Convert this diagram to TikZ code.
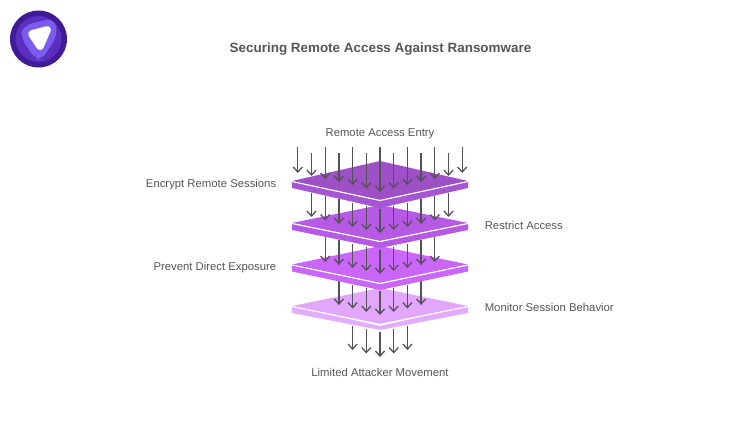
\documentclass[tikz,border=0pt]{standalone}
\usepackage{fontspec}
\setmainfont{Liberation Sans}
\usetikzlibrary{arrows.meta}
\definecolor{inkgrey}{HTML}{555555}
\definecolor{arrowgrey}{HTML}{555059}
\definecolor{topA}{HTML}{9E50C6}
\definecolor{sideA}{HTML}{A656D2}
\definecolor{topB}{HTML}{B65AE6}
\definecolor{sideB}{HTML}{B65AE6}
\definecolor{topC}{HTML}{CB66FB}
\definecolor{sideC}{HTML}{CB66FB}
\definecolor{topD}{HTML}{E2A6FD}
\definecolor{sideD}{HTML}{E5ABFF}
\definecolor{logoA}{HTML}{3F1C96}
\definecolor{logoB}{HTML}{5A2FC2}
\definecolor{logoC}{HTML}{7A5CEE}
\tikzset{
	flow/.style={arrowgrey, line width=0.9pt, -{Straight Barb[length=3.6pt,width=6.5pt]}},
	label/.style={inkgrey, inner sep=0pt, font=\fontsize{8.05}{10}\selectfont},
	heading/.style={inkgrey, inner sep=0pt, font=\fontsize{9.55}{11}\selectfont\bfseries},
	edgeline/.style={white, line width=0.8pt}
}
\begin{document}
\begin{tikzpicture}[x=0.025cm, y=-0.025cm]
	\useasboundingbox (0, 0) rectangle (740, 420);
	% logo
	\fill [logoA] (38.5, 39) circle (28.5);
	\fill [logoB] (38.5, 39) circle (23);
	\fill [logoC, rounded corners=6] (22, 26) -- (54, 18) -- (58, 34) -- (42, 60) -- (35, 59) -- (21, 38) -- cycle;
	\filldraw [white, line width=5.5pt, line join=round] (32, 34) -- (47, 30) -- (40, 46) -- cycle;
	% texts
	\node [heading] at (380.5, 49.5) (title) {Securing Remote Access Against Ransomware};
	\node [label] at (380, 133.5) (entry) {Remote Access Entry};
	\node [label, anchor=east] at (276.5, 185) (encrypt) {Encrypt Remote Sessions};
	\node [label, anchor=west] at (484.5, 225.5) (restrict) {Restrict Access};
	\node [label, anchor=east] at (276.5, 267.5) (prevent) {Prevent Direct Exposure};
	\node [label, anchor=west] at (484.5, 307.5) (monitor) {Monitor Session Behavior};
	\node [label] at (380, 372.5) (limited) {Limited Attacker Movement};
	% bottom arrows
	\coordinate (Es0) at (380, 332); \coordinate (Ee0) at (380, 357); \draw [flow] (Es0) -- (Ee0);
	\coordinate (Es1) at (366.3, 329); \coordinate (Ee1) at (366.3, 353.5); \draw [flow] (Es1) -- (Ee1);
	\coordinate (Es2) at (393.7, 329); \coordinate (Ee2) at (393.7, 353.5); \draw [flow] (Es2) -- (Ee2);
	\coordinate (Es3) at (352.6, 326); \coordinate (Ee3) at (352.6, 350); \draw [flow] (Es3) -- (Ee3);
	\coordinate (Es4) at (407.4, 326); \coordinate (Ee4) at (407.4, 350); \draw [flow] (Es4) -- (Ee4);
	% plate 4
	\fill [sideD] (292, 306) -- (380, 326) -- (468, 306) -- (468, 313) -- (380, 330) -- (292, 313) -- cycle;
	\fill [topD] (292, 306) -- (380, 288) -- (468, 306) -- (380, 324) -- cycle;
	\draw [edgeline] (292, 306.5) -- (380, 324.5) -- (468, 306.5);
	% arrows on plate 4
	\coordinate (Ds0) at (380, 291); \coordinate (De0) at (380, 315); \draw [flow] (Ds0) -- (De0);
	\coordinate (Ds1) at (366.3, 288); \coordinate (De1) at (366.3, 312); \draw [flow] (Ds1) -- (De1);
	\coordinate (Ds2) at (393.7, 288); \coordinate (De2) at (393.7, 312); \draw [flow] (Ds2) -- (De2);
	\coordinate (Ds3) at (352.6, 285); \coordinate (De3) at (352.6, 308.5); \draw [flow] (Ds3) -- (De3);
	\coordinate (Ds4) at (407.4, 285); \coordinate (De4) at (407.4, 308.5); \draw [flow] (Ds4) -- (De4);
	\coordinate (Ds5) at (338.9, 281); \coordinate (De5) at (338.9, 305); \draw [flow] (Ds5) -- (De5);
	\coordinate (Ds6) at (421.1, 281); \coordinate (De6) at (421.1, 305); \draw [flow] (Ds6) -- (De6);
	% plate 3
	\fill [sideC] (292, 264.5) -- (380, 284) -- (468, 264.5) -- (468, 271.5) -- (380, 290) -- (292, 271.5) -- cycle;
	\fill [topC] (292, 264.5) -- (380, 246) -- (468, 264.5) -- (380, 283) -- cycle;
	\draw [edgeline] (292, 265) -- (380, 283.5) -- (468, 265);
	% arrows on plate 3
	\coordinate (Cs0) at (380, 250); \coordinate (Ce0) at (380, 274); \draw [flow] (Cs0) -- (Ce0);
	\coordinate (Cs1) at (366.3, 247); \coordinate (Ce1) at (366.3, 271); \draw [flow] (Cs1) -- (Ce1);
	\coordinate (Cs2) at (393.7, 247); \coordinate (Ce2) at (393.7, 271); \draw [flow] (Cs2) -- (Ce2);
	\coordinate (Cs3) at (352.6, 243.5); \coordinate (Ce3) at (352.6, 268); \draw [flow] (Cs3) -- (Ce3);
	\coordinate (Cs4) at (407.4, 243.5); \coordinate (Ce4) at (407.4, 268); \draw [flow] (Cs4) -- (Ce4);
	\coordinate (Cs5) at (338.9, 240); \coordinate (Ce5) at (338.9, 265); \draw [flow] (Cs5) -- (Ce5);
	\coordinate (Cs6) at (421.1, 240); \coordinate (Ce6) at (421.1, 265); \draw [flow] (Cs6) -- (Ce6);
	\coordinate (Cs7) at (325.2, 237); \coordinate (Ce7) at (325.2, 262); \draw [flow] (Cs7) -- (Ce7);
	\coordinate (Cs8) at (434.8, 237); \coordinate (Ce8) at (434.8, 262); \draw [flow] (Cs8) -- (Ce8);
	% plate 2
	\fill [sideB] (292, 223) -- (380, 242) -- (468, 223) -- (468, 230) -- (380, 248) -- (292, 230) -- cycle;
	\fill [topB] (292, 223) -- (380, 205) -- (468, 223) -- (380, 241) -- cycle;
	\draw [edgeline] (292, 223.5) -- (380, 241.5) -- (468, 223.5);
	% arrows on plate 2
	\coordinate (Bs0) at (380, 209); \coordinate (Be0) at (380, 233); \draw [flow] (Bs0) -- (Be0);
	\coordinate (Bs1) at (366.3, 206); \coordinate (Be1) at (366.3, 230); \draw [flow] (Bs1) -- (Be1);
	\coordinate (Bs2) at (393.7, 206); \coordinate (Be2) at (393.7, 230); \draw [flow] (Bs2) -- (Be2);
	\coordinate (Bs3) at (352.6, 202.5); \coordinate (Be3) at (352.6, 227); \draw [flow] (Bs3) -- (Be3);
	\coordinate (Bs4) at (407.4, 202.5); \coordinate (Be4) at (407.4, 227); \draw [flow] (Bs4) -- (Be4);
	\coordinate (Bs5) at (338.9, 199); \coordinate (Be5) at (338.9, 224); \draw [flow] (Bs5) -- (Be5);
	\coordinate (Bs6) at (421.1, 199); \coordinate (Be6) at (421.1, 224); \draw [flow] (Bs6) -- (Be6);
	\coordinate (Bs7) at (325.2, 196); \coordinate (Be7) at (325.2, 220.5); \draw [flow] (Bs7) -- (Be7);
	\coordinate (Bs8) at (434.8, 196); \coordinate (Be8) at (434.8, 220.5); \draw [flow] (Bs8) -- (Be8);
	\coordinate (Bs9) at (311.5, 193); \coordinate (Be9) at (311.5, 217); \draw [flow] (Bs9) -- (Be9);
	\coordinate (Bs10) at (448.5, 193); \coordinate (Be10) at (448.5, 217); \draw [flow] (Bs10) -- (Be10);
	% plate 1
	\fill [sideA] (292, 181) -- (380, 200) -- (468, 181) -- (468, 188) -- (380, 208) -- (292, 188) -- cycle;
	\fill [topA] (292, 181) -- (380, 161) -- (468, 181) -- (380, 200) -- cycle;
	\draw [edgeline] (292, 181.5) -- (380, 200.5) -- (468, 181.5);
	% arrows on plate 1
	\coordinate (As0) at (380, 147); \coordinate (Ae0) at (380, 192); \draw [flow] (As0) -- (Ae0);
	\coordinate (As1) at (366.3, 153); \coordinate (Ae1) at (366.3, 188.5); \draw [flow] (As1) -- (Ae1);
	\coordinate (As2) at (393.7, 153); \coordinate (Ae2) at (393.7, 188.5); \draw [flow] (As2) -- (Ae2);
	\coordinate (As3) at (352.6, 147); \coordinate (Ae3) at (352.6, 185); \draw [flow] (As3) -- (Ae3);
	\coordinate (As4) at (407.4, 147); \coordinate (Ae4) at (407.4, 185); \draw [flow] (As4) -- (Ae4);
	\coordinate (As5) at (338.9, 153); \coordinate (Ae5) at (338.9, 182); \draw [flow] (As5) -- (Ae5);
	\coordinate (As6) at (421.1, 153); \coordinate (Ae6) at (421.1, 182); \draw [flow] (As6) -- (Ae6);
	\coordinate (As7) at (325.2, 147); \coordinate (Ae7) at (325.2, 179); \draw [flow] (As7) -- (Ae7);
	\coordinate (As8) at (434.8, 147); \coordinate (Ae8) at (434.8, 179); \draw [flow] (As8) -- (Ae8);
	\coordinate (As9) at (311.5, 153); \coordinate (Ae9) at (311.5, 176); \draw [flow] (As9) -- (Ae9);
	\coordinate (As10) at (448.5, 153); \coordinate (Ae10) at (448.5, 176); \draw [flow] (As10) -- (Ae10);
	\coordinate (As11) at (297.8, 147); \coordinate (Ae11) at (297.8, 173); \draw [flow] (As11) -- (Ae11);
	\coordinate (As12) at (462.2, 147); \coordinate (Ae12) at (462.2, 173); \draw [flow] (As12) -- (Ae12);
\end{tikzpicture}
\end{document}
